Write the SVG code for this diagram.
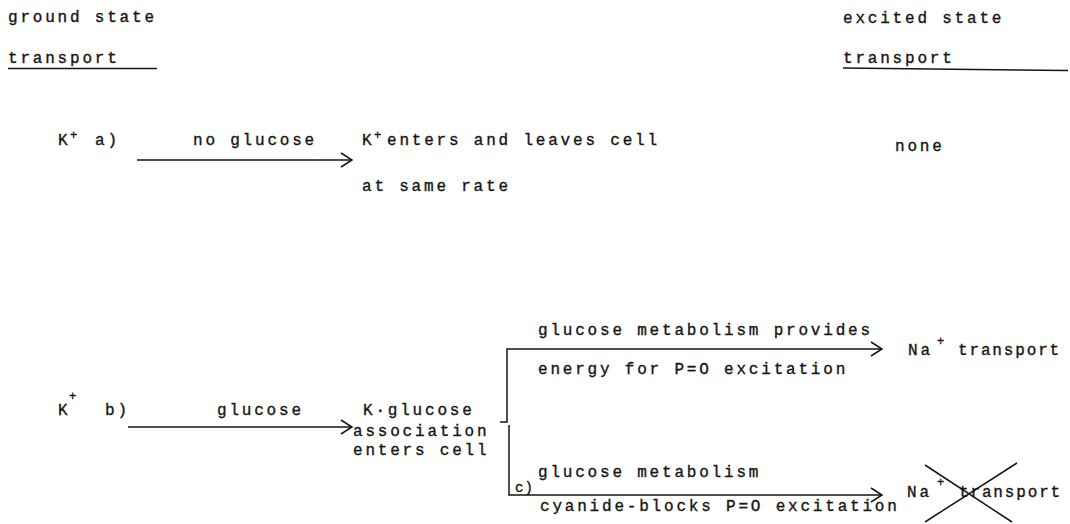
<svg xmlns="http://www.w3.org/2000/svg" width="1070" height="524" viewBox="0 0 1070 524">
<defs>
<style>
text{font-family:"Liberation Mono","DejaVu Sans Mono",monospace;font-size:16px;letter-spacing:2.8px;fill:#151515;stroke:#151515;stroke-width:0.35}
.sup{font-size:12px;letter-spacing:0}
.sm{font-size:14px;letter-spacing:1px}
.ln{stroke:#151515;stroke-width:1.5;fill:none}
</style>
<marker id="ah" markerWidth="14" markerHeight="16" refX="12" refY="8" orient="auto" markerUnits="userSpaceOnUse">
<path d="M1,1 L12,8 L1,15" fill="none" stroke="#151515" stroke-width="1.5"/>
</marker>
</defs>
<rect width="1070" height="524" fill="#ffffff"/>

<g id="header-ground">
<text x="8" y="22">ground state</text>
<text x="8" y="63">transport</text>
<line class="ln" x1="8" y1="68.5" x2="157" y2="68.5"/>
</g>
<g id="header-excited">
<text x="843" y="23">excited state</text>
<text x="843" y="63">transport</text>
<line class="ln" x1="843" y1="68" x2="1068" y2="70.5"/>
</g>

<g id="row-a-start">
<text x="58" y="145">K</text><text class="sup" x="70" y="139">+</text>
<text x="95" y="145">a)</text>
</g>
<g id="row-a-result">
<text x="362" y="145">K</text><text class="sup" x="374" y="139">+</text>
<text x="387" y="145">enters and leaves cell</text>
<text x="362" y="191">at same rate</text>
</g>
<g id="row-a-none">
<text x="895" y="151">none</text>
</g>

<g id="row-b-start">
<text x="58" y="415">K</text><text class="sup" x="69" y="400">+</text>
<text x="105" y="415">b)</text>
</g>
<g id="row-b-assoc">
<text x="363" y="415">K·glucose</text>
<text x="353" y="436">association</text>
<text x="353" y="455">enters cell</text>
</g>
<g id="na-transport-top">
<text x="908" y="355">Na</text><text class="sup" x="937" y="345">+</text>
<text x="958" y="355" textLength="104" lengthAdjust="spacing">transport</text>
</g>
<g id="na-transport-blocked">
<text x="907" y="497">Na</text><text class="sup" x="937" y="486">+</text>
<text x="959" y="497" textLength="104" lengthAdjust="spacing">transport</text>
<line class="ln" x1="925" y1="465" x2="1012" y2="522"/>
<line class="ln" x1="1017" y1="463" x2="925" y2="522"/>
</g>

<g id="connectors">
<line class="ln" x1="137" y1="160" x2="352" y2="160" marker-end="url(#ah)"/>
<text x="193" y="145">no glucose</text>
<line class="ln" x1="128" y1="427" x2="352" y2="427" marker-end="url(#ah)"/>
<text x="217" y="415">glucose</text>
<polyline class="ln" points="500,422 507,422 507,349 882,349" marker-end="url(#ah)"/>
<polyline class="ln" points="509,425 509,495 882,495" marker-end="url(#ah)"/>
<text x="538" y="335">glucose metabolism provides</text>
<text x="538" y="374">energy for P=O excitation</text>
<text class="sm" x="515" y="492">c)</text>
<text x="538" y="477">glucose metabolism</text>
<text x="540" y="511">cyanide-blocks P=O excitation</text>
</g>
</svg>
